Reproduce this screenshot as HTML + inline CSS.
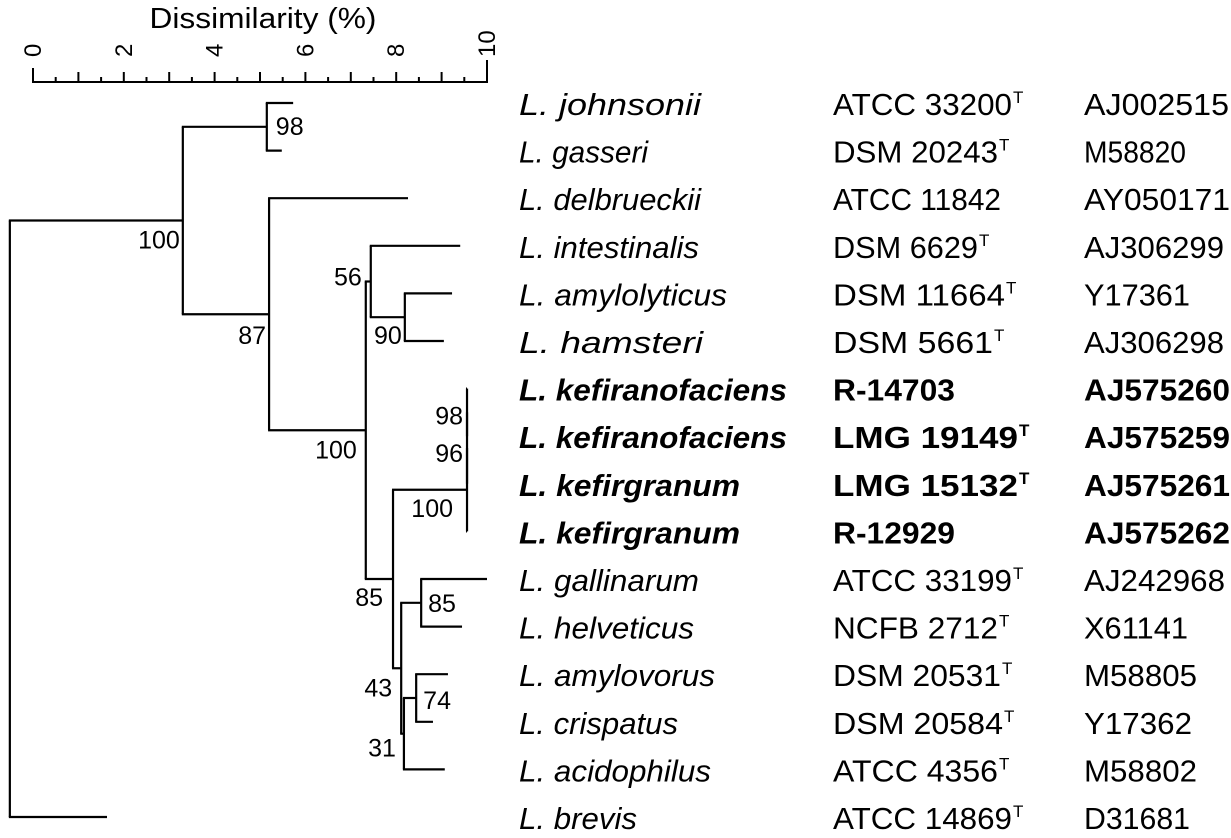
<!DOCTYPE html>
<html><head><meta charset="utf-8"><style>
html,body{margin:0;padding:0;background:#fff;}
svg{display:block;}
text{font-family:"Liberation Sans",Arial,sans-serif;fill:#000;}
</style></head><body>
<svg id="chart" width="1231" height="838" viewBox="0 0 1231 838" xmlns="http://www.w3.org/2000/svg">
<g id="axis"></g>
<g id="tree"></g>
<g id="supports"></g>
<g id="labels"></g>
</svg>
<script>
// ---- data ----
const species = ["L. johnsonii","L. gasseri","L. delbrueckii","L. intestinalis","L. amylolyticus","L. hamsteri","L. kefiranofaciens","L. kefiranofaciens","L. kefirgranum","L. kefirgranum","L. gallinarum","L. helveticus","L. amylovorus","L. crispatus","L. acidophilus","L. brevis"];
const strains = ["ATCC 33200","DSM 20243","ATCC 11842","DSM 6629","DSM 11664","DSM 5661","R-14703","LMG 19149","LMG 15132","R-12929","ATCC 33199","NCFB 2712","DSM 20531","DSM 20584","ATCC 4356","ATCC 14869"];
const typeStrain = [1,1,0,1,1,1,0,1,1,0,1,1,1,1,1,1];
const accessions = ["AJ002515","M58820","AY050171","AJ306299","Y17361","AJ306298","AJ575260","AJ575259","AJ575261","AJ575262","AJ242968","X61141","M58805","Y17362","M58802","D31681"];
const bold = [0,0,0,0,0,0,1,1,1,1,0,0,0,0,0,0];
const leafDist = [5.73,5.48,8.26,9.41,9.23,9.05,9.56,9.56,9.56,9.56,10.0,9.45,9.14,8.81,9.07,1.63];
const nodeNames = ["jg","n90","n56","k98","k96","k100","n85b","n74","n31","n43","n85a","n100b","n87","n100a","root"];
const nodeChildren = [["L0","L1"],["L4","L5"],["L3","n90"],["L6","L7"],["k98","L8"],["k96","L9"],["L10","L11"],["L12","L13"],["n74","L14"],["n85b","n31"],["k100","n43"],["n56","n85a"],["L2","n100b"],["jg","n87"],["n100a","L15"]];
const nodeDist = [5.15,8.19,7.44,9.56,9.56,9.56,8.55,8.44,8.17,8.11,7.93,7.33,5.20,3.30,-0.51];
const nodeSupport = ["98","90","56","98","96","100","85","74","31","43","85","100","87","100",""];
const axisTicks = [0,2,4,6,8,10];
const axisTitle = "Dissimilarity (%)";

// ---- layout ----
const NS="http://www.w3.org/2000/svg";
const x0=33, pxPerUnit=45.4;
const xs=d=>x0+d*pxPerUnit;
const rowY=i=>103+i*47.6;
function mk(tag,attrs,parent){const e=document.createElementNS(NS,tag);for(const k in attrs)e.setAttribute(k,attrs[k]);parent.appendChild(e);return e;}
const axis=document.getElementById('axis'),tree=document.getElementById('tree'),sup=document.getElementById('supports'),labs=document.getElementById('labels');

// axis
let ax=mk('line',{x1:xs(0),y1:82,x2:xs(10),y2:82,stroke:'#000','stroke-width':2},axis);


for(let v=0;v<=10.001;v+=0.5){
  const top = (v===10)?60:(v===0)?68:(Math.abs(v-Math.round(v))<0.01?72:77);
  const t=mk('line',{x1:xs(v),y1:top,x2:xs(v),y2:83,stroke:'#000','stroke-width':2},axis);
  
  
}
axisTicks.forEach(v=>{
  const X=xs(v)+8,Y=57;
  const t=mk('text',{x:X,y:Y,'font-size':24,transform:`rotate(-90 ${X} ${Y})`},axis);
  t.textContent=String(v);
  
  
});
const ttl=mk('text',{x:263,y:28,'font-size':29,'text-anchor':'middle',textLength:227,lengthAdjust:'spacingAndGlyphs'},axis);
ttl.textContent=axisTitle;



// tree
const pos={};
for(let i=0;i<leafDist.length;i++)pos['L'+i]={x:xs(leafDist[i]),y:rowY(i)};
nodeNames.forEach((n,i)=>{
  const ch=nodeChildren[i].map(c=>pos[c]);
  const x=xs(nodeDist[i]);
  const ys=ch.map(c=>c.y);
  const y=(Math.min(...ys)+Math.max(...ys))/2;
  pos[n]={x,y};
  const v=mk('line',{x1:x,y1:Math.min(...ys),x2:x,y2:Math.max(...ys),stroke:'#000','stroke-width':2.2},tree);
  
  
  ch.forEach((c,k)=>{
    const h=mk('line',{x1:x-1,y1:c.y,x2:c.x,y2:c.y,stroke:'#000','stroke-width':2.2},tree);
    
    
  });
});

// support labels (anchor, dx, dy relative to node)
const supPlace={jg:['start',9,8],n90:['end',-3,27],n56:['end',-9,4],k98:['end',-4,12],k96:['end',-4,14],k100:['end',-14,27],n85b:['start',7,9],n74:['start',7,11],n31:['end',-8,23],n43:['end',-9,28],n85a:['end',-10,27],n100b:['end',-9,28],n87:['end',-3,30],n100a:['end',-3,28]};
nodeNames.forEach((n,i)=>{
  if(!nodeSupport[i])return;
  const p=supPlace[n],q=pos[n];
  const t=mk('text',{x:q.x+p[1],y:q.y+p[2],'font-size':25,'text-anchor':p[0]},sup);
  t.textContent=nodeSupport[i];
  
  
});

// taxon labels
const spEnd=[701,648,701,699,727,703,787,787,740,740,699,694,715,678,711,637];
const stEnd=[1012,998,1001,978,1005,993,955,1018,1018,955,1012,998,1001,1003,998,1012];
const acEnd=[1229,1186,1230,1224,1190,1224,1230,1230,1230,1230,1225,1188,1197,1192,1197,1190];
species.forEach((s,i)=>{
  const y=rowY(i)+12, fw=bold[i]?'bold':'normal';
  const a=mk('text',{x:519,y:y,'font-size':31,'font-style':'italic','font-weight':fw,textLength:spEnd[i]-519,lengthAdjust:'spacingAndGlyphs'},labs);
  a.textContent=s;
  
  
  const b=mk('text',{x:833,y:y,'font-size':31,'font-weight':fw,textLength:stEnd[i]-833,lengthAdjust:'spacingAndGlyphs'},labs);
  b.textContent=strains[i];
  
  
  if(typeStrain[i]){
    const t=mk('text',{x:stEnd[i]+1,y:y-12,'font-size':17,'font-weight':fw},labs);
    t.textContent='T';
    
    
  }
  const c=mk('text',{x:1084,y:y,'font-size':31,'font-weight':fw,textLength:acEnd[i]-1084,lengthAdjust:'spacingAndGlyphs'},labs);
  c.textContent=accessions[i];
  
  
});
</script>
</body></html>
